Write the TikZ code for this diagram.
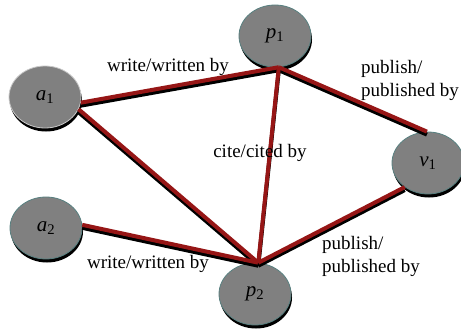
\documentclass[tikz,border=0pt]{standalone}
\usepackage{fontspec}
\setmainfont{Liberation Serif}
\usetikzlibrary{shapes.geometric,shadows}
\definecolor{nodegray}{RGB}{128,128,128}
\definecolor{rimteal}{RGB}{88,128,128}
\definecolor{rimlight}{RGB}{200,200,200}
\definecolor{linkred}{RGB}{150,22,22}
\tikzset{
  obj/.style={ellipse, fill=nodegray, draw=rimteal, line width=0.8pt,
    minimum width=72pt, minimum height=62pt, inner sep=0pt,
    drop shadow={shadow xshift=1pt, shadow yshift=-3.5pt, fill=black, opacity=1},
    font=\fontsize{21}{24}\selectfont},
  link/.style={draw=linkred, line width=4pt,
    preaction={draw=black, line width=4pt, transform canvas={yshift=-3pt}}},
  rel/.style={font=\fontsize{19}{23}\selectfont, inner sep=0pt},
}
\newcommand{\ent}[2]{\textit{#1}\textsubscript{#2}}
\begin{document}
\begin{tikzpicture}[x=1pt, y=-1pt]
\useasboundingbox (0,0) rectangle (461,329);
\node[obj] (p1) at (275,36) {\ent{p}{1}};
\node[obj, draw=rimlight] (a1) at (45,97) {\ent{a}{1}};
\node[obj] (v1) at (428,163) {\ent{v}{1}};
\node[obj] (a2) at (46,228) {\ent{a}{2}};
\node[obj] (p2) at (255,294) {\ent{p}{2}};

\draw[link] (a1.-9) -- (p1.-83);
\draw[link] (p1.-83) -- (v1.92);
\draw[link] (p1.-83) -- (p2.84);
\draw[link] (a1.-20) -- (p2.84);
\draw[link] (a2.5) -- (p2.84);
\draw[link] (v1.-134) -- (p2.84);

\node[rel] at (168,67) {write/written by};
\node[rel, anchor=west, align=left] at (361,80) {publish/\\published by};
\node[rel] at (260,153) {cite/cited by};
\node[rel] at (148,264) {write/written by};
\node[rel, anchor=west, align=left] at (322,256) {publish/\\published by};
\end{tikzpicture}
\end{document}
